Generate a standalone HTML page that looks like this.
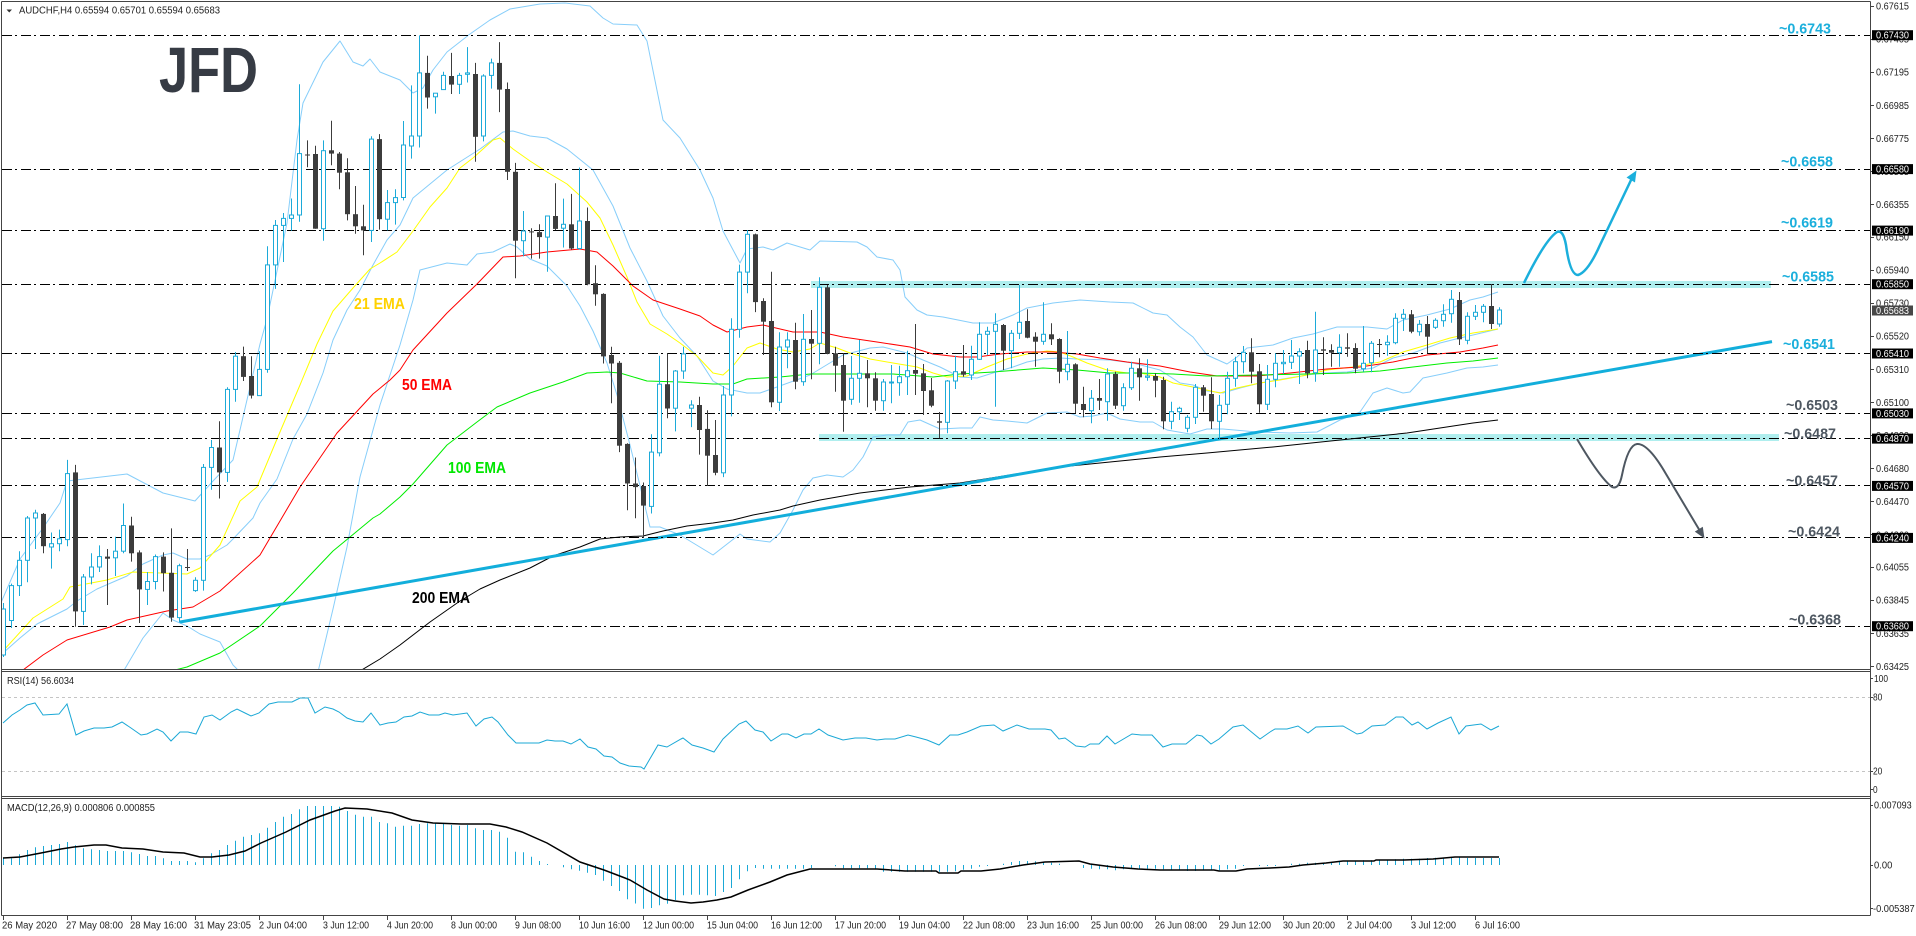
<!DOCTYPE html>
<html><head><meta charset="utf-8">
<style>
html,body{margin:0;padding:0;background:#fff;width:1916px;height:936px;overflow:hidden;}
svg{display:block;font-family:"Liberation Sans",Arial,sans-serif;}
</style></head><body>
<svg id="s" width="1916" height="936" viewBox="0 0 1916 936" xmlns="http://www.w3.org/2000/svg">
<defs>
<clipPath id="cm"><rect x="2" y="2" width="1868" height="667"/></clipPath>
<clipPath id="cr"><rect x="2" y="672" width="1868" height="124"/></clipPath>
<clipPath id="cd"><rect x="2" y="799" width="1868" height="116"/></clipPath>
</defs>
<rect width="1916" height="936" fill="#fff"/>

<g clip-path="url(#cm)">
  <rect x="811" y="281" width="960" height="7" fill="#AFEEEE"/>
  <rect x="819" y="434" width="960" height="7" fill="#AFEEEE"/>

  <g fill="none" stroke-width="1" stroke-linejoin="round">
    <polyline stroke="#87CEFA" points="0,605 20,559 43,528 60,503 67,481 127,474 163,493 195,501 213,481 233,460 260,344 267,319 287,223 297,140 303,103 323,62 340,41 353,62 363,66 370,59 380,72 400,80 413,93 423,88 433,70 447,52 470,34 490,20 510,9 540,4 565,3 590,6 603,18 613,24 637,25 647,41 663,120 680,138 700,170 713,198 723,231 740,263 747,249 763,247 773,250 787,243 810,250 820,241 857,242 867,247 877,257 893,260 900,270 905,297 917,310 927,315 943,317 973,323 993,323 1013,315 1027,308 1053,303 1080,300 1110,302 1133,303 1153,313 1167,315 1180,327 1193,337 1207,355 1227,364 1237,357 1247,348 1273,345 1293,338 1313,334 1337,327 1367,327 1387,329 1403,320 1427,315 1450,309 1470,300 1483,297 1498,292"/>
    <polyline stroke="#87CEFA" points="3,653 20,638 37,624 67,609 77,601 97,589 127,576 143,564 163,555 173,553 187,559 200,559 210,555 227,545 233,539 253,518 260,503 277,479 293,439 307,414 323,373 333,340 347,310 360,290 373,265 387,240 400,225 413,198 447,170 480,149 503,132 513,131 530,136 547,138 567,149 593,170 613,206 630,248 647,281 663,316 680,338 697,356 713,381 727,389 747,393 760,393 777,387 810,375 843,355 870,348 883,347 907,353 923,360 940,367 960,377 977,378 993,373 1013,367 1027,362 1043,359 1060,358 1077,359 1110,360 1133,363 1160,370 1180,383 1193,385 1207,391 1223,393 1240,388 1260,383 1283,379 1307,375 1323,373 1347,372 1373,368 1393,358 1413,353 1440,343 1460,338 1473,335 1498,329"/>
    <polyline stroke="#87CEFA" points="123,672 143,638 163,613 173,620 187,626 200,634 220,642 233,665 240,672"/>
    <polyline stroke="#87CEFA" points="318,672 333,609 347,547 360,477 373,430 380,405 400,345 413,300 420,270 447,263 467,265 477,254 493,252 510,244 517,247 530,259 547,266 567,286 580,306 593,331 607,363 617,395 630,445 643,498 650,527 660,527 680,535 713,555 740,534 747,539 770,542 780,533 793,510 803,490 813,478 827,475 843,477 853,470 863,457 873,437 887,435 900,435 908,422 920,420 940,429 960,428 972,428 980,417 993,420 1007,421 1027,423 1037,418 1047,413 1067,412 1080,417 1093,416 1107,413 1120,419 1140,422 1153,422 1167,430 1190,434 1207,429 1223,429 1257,432 1290,433 1317,432 1340,420 1360,412 1373,393 1387,388 1403,393 1410,392 1423,378 1447,373 1467,368 1483,367 1498,365"/>
    <polyline stroke="#FFFF00" points="3,651 33,618 63,599 70,587 107,580 133,572 187,574 200,568 220,545 240,501 257,487 277,439 300,385 317,344 333,311 353,288 370,269 380,263 397,252 413,231 430,207 447,188 460,168 473,158 493,140 500,138 513,149 530,161 547,172 567,184 587,202 600,218 613,245 627,277 637,302 650,324 667,334 680,343 697,356 713,373 723,375 733,366 747,348 760,343 777,349 793,352 810,349 820,343 837,348 850,353 870,359 893,363 917,367 933,373 947,377 967,376 987,367 1007,359 1027,354 1047,351 1060,352 1073,357 1087,363 1107,370 1127,373 1140,373 1160,377 1173,383 1193,387 1220,393 1237,388 1260,383 1280,380 1307,375 1327,370 1353,367 1380,362 1403,352 1427,345 1450,338 1473,333 1498,329"/>
    <polyline stroke="#FF0000" points="23,670 43,655 67,640 110,627 127,620 167,611 193,607 220,591 260,555 300,487 337,433 373,394 390,380 400,370 413,350 447,313 477,284 503,257 520,256 547,252 580,249 597,252 613,266 633,286 653,300 680,309 700,316 713,325 727,332 747,327 763,325 793,332 820,332 843,337 877,342 910,347 933,354 960,357 977,357 1000,354 1027,352 1053,352 1077,354 1100,358 1127,362 1160,366 1190,372 1217,376 1257,376 1290,373 1327,369 1360,367 1393,362 1427,355 1460,352 1483,348 1498,345"/>
    <polyline stroke="#00EE00" points="175,670 187,667 220,653 260,626 293,593 333,551 350,537 373,518 380,514 400,497 413,484 447,445 477,422 497,407 530,393 563,382 587,373 607,372 620,373 647,381 680,382 713,384 733,384 747,379 780,377 810,374 893,374 933,377 960,374 993,372 1043,368 1077,370 1110,373 1140,373 1173,374 1207,376 1257,375 1307,374 1347,373 1380,371 1413,367 1447,363 1473,361 1498,358"/>
    <polyline stroke="#000" points="360,671 380,659 400,645 430,622 460,601 480,589 500,580 530,568 553,556 580,547 600,539 620,537 643,536 663,531 687,526 713,523 733,520 753,515 780,510 793,506 820,500 860,493 910,487 960,483 1010,475 1060,467 1110,462 1160,457 1207,453 1273,447 1340,440 1407,433 1473,423 1498,420"/>
  </g>

  <line x1="180" y1="622" x2="1772" y2="341.6" stroke="#12AEDB" stroke-width="3"/>

  <g stroke="#000" stroke-width="1" stroke-dasharray="10,3,2,4">
    <line x1="2" y1="35.5" x2="1870" y2="35.5"/>
    <line x1="2" y1="169.5" x2="1870" y2="169.5"/>
    <line x1="2" y1="230.5" x2="1870" y2="230.5"/>
    <line x1="2" y1="284.5" x2="1870" y2="284.5"/>
    <line x1="2" y1="353.5" x2="1870" y2="353.5"/>
    <line x1="2" y1="413.5" x2="1870" y2="413.5"/>
    <line x1="2" y1="438.5" x2="1870" y2="438.5"/>
    <line x1="2" y1="485.5" x2="1870" y2="485.5"/>
    <line x1="2" y1="537.5" x2="1870" y2="537.5"/>
    <line x1="2" y1="626.5" x2="1870" y2="626.5"/>
  </g>

  <g id="cnd"></g>

  <text x="159" y="92" font-size="64" font-weight="bold" fill="#363B44" textLength="99" lengthAdjust="spacingAndGlyphs">JFD</text>

  <polygon points="6.5,9.5 12,9.5 9.25,12.5" fill="#333"/>
  <text x="19" y="13.5" font-size="10" fill="#222" textLength="201" lengthAdjust="spacingAndGlyphs">AUDCHF,H4  0.65594 0.65701 0.65594 0.65683</text>

  <g font-size="16" font-weight="bold">
    <text x="354" y="309" fill="#FFD200" textLength="51" lengthAdjust="spacingAndGlyphs">21 EMA</text>
    <text x="402" y="390" fill="#FF0000" textLength="50" lengthAdjust="spacingAndGlyphs">50 EMA</text>
    <text x="448" y="473" fill="#00E600" textLength="58" lengthAdjust="spacingAndGlyphs">100 EMA</text>
    <text x="412" y="603" fill="#000" textLength="58" lengthAdjust="spacingAndGlyphs">200 EMA</text>
  </g>

  <g font-size="15" font-weight="bold">
    <text x="1779" y="33.3" fill="#1BAFDC" textLength="52" lengthAdjust="spacingAndGlyphs">~0.6743</text>
    <text x="1781" y="166.7" fill="#1BAFDC" textLength="52" lengthAdjust="spacingAndGlyphs">~0.6658</text>
    <text x="1781" y="227.7" fill="#1BAFDC" textLength="52" lengthAdjust="spacingAndGlyphs">~0.6619</text>
    <text x="1782" y="281.7" fill="#1BAFDC" textLength="52" lengthAdjust="spacingAndGlyphs">~0.6585</text>
    <text x="1783" y="349" fill="#1BAFDC" textLength="52" lengthAdjust="spacingAndGlyphs">~0.6541</text>
    <text x="1786" y="410" fill="#4E5761" textLength="52" lengthAdjust="spacingAndGlyphs">~0.6503</text>
    <text x="1784" y="438.3" fill="#4E5761" textLength="52" lengthAdjust="spacingAndGlyphs">~0.6487</text>
    <text x="1786" y="485.7" fill="#4E5761" textLength="52" lengthAdjust="spacingAndGlyphs">~0.6457</text>
    <text x="1788" y="536.7" fill="#4E5761" textLength="52" lengthAdjust="spacingAndGlyphs">~0.6424</text>
    <text x="1789" y="624.3" fill="#4E5761" textLength="52" lengthAdjust="spacingAndGlyphs">~0.6368</text>
  </g>

  <path d="M1524,283 Q1545,240 1557,232 Q1563,229 1566,245 Q1570,275 1578,275 Q1588,272 1600,245 L1632,178" fill="none" stroke="#1BAFDC" stroke-width="2.5"/>
  <polygon points="1636.5,170.5 1635,182.5 1626.5,177.5" fill="#1BAFDC"/>
  <path d="M1577,439 Q1600,478 1612,487 Q1619,490 1622,475 Q1628,445 1637,444 Q1648,443 1666,474 L1700,531" fill="none" stroke="#4E5761" stroke-width="2"/>
  <polygon points="1704.5,538.5 1702.8,526.8 1694.8,531.6" fill="#4E5761"/>
</g>

<!-- RSI -->
<g clip-path="url(#cr)">
  <line x1="2" y1="697.5" x2="1870" y2="697.5" stroke="#C4C4C4" stroke-dasharray="3,3"/>
  <line x1="2" y1="771.5" x2="1870" y2="771.5" stroke="#C4C4C4" stroke-dasharray="3,3"/>
  <polyline fill="none" stroke="#1BA8D6" stroke-width="1" points="3,723 12,715 20,710 27,705 35,703 43,715 59,714 67,704 76,735 84,731 94,728 104,728 112,727 122,722 131,728 141,735 147,734 157,729 163,732 171,741 180,732 188,732 196,734 204,717 212,715 220,720 231,712 237,709 245,713 251,716 259,713 269,704 278,702 292,702 300,698 308,698 315,713 325,707 333,709 339,712 347,718 355,721 363,722 371,713 380,725 388,723 396,722 404,717 412,716 420,712 429,715 439,715 445,713 453,715 467,713 476,726 484,719 492,717 498,722 508,735 516,743 539,743 547,740 555,741 563,741 571,744 580,739 588,747 596,749 604,756 612,757 620,763 629,766 641,767 644,769 658,745 667,747 681,739 683,738 692,745 703,748 714,752 723,739 739,724 746,721 755,730 763,732 771,741 782,734 788,734 796,738 804,734 811,734 819,729 828,735 843,740 855,738 866,738 877,740 885,739 895,739 908,735 916,737 927,740 939,745 950,735 958,735 967,732 981,726 994,725 1003,731 1017,725 1029,729 1045,729 1051,730 1059,739 1065,738 1076,746 1085,747 1090,744 1099,744 1107,736 1115,744 1132,734 1141,735 1152,735 1163,747 1172,744 1186,744 1197,735 1202,736 1211,744 1219,739 1233,727 1243,725 1260,739 1270,732 1275,729 1287,729 1298,726 1308,733 1316,727 1343,726 1357,734 1362,733 1372,726 1385,725 1396,717 1403,717 1412,725 1418,722 1427,729 1438,723 1451,717 1459,734 1466,726 1481,724 1491,730 1499,726"/>
  <text x="7" y="684" font-size="10" fill="#222" textLength="67" lengthAdjust="spacingAndGlyphs">RSI(14) 56.6034</text>
</g>

<!-- MACD -->
<g clip-path="url(#cd)">
  <g id="hist"></g>
  <polyline fill="none" stroke="#000" stroke-width="1.5" points="3,858 20,857 41,853 61,849 74,847 94,845 106,845 122,848 143,849 163,852 184,853 200,857 212,857 229,855 245,851 261,843 286,832 310,820 335,811 345,808 367,809 392,813 412,820 433,823 461,824 490,824 506,827 522,832 547,843 580,862 604,870 625,878 630,880 647,890 664,899 675,901 691,903 703,902 717,900 731,897 748,890 770,882 787,875 810,869 824,869 877,869 905,871 936,871 939,873 958,873 961,871 981,871 1000,869 1023,865 1045,862 1079,861 1090,864 1113,867 1138,869 1160,870 1214,870 1219,871 1236,871 1247,869 1270,868 1289,867 1303,865 1326,863 1343,861 1374,861 1376,860 1404,860 1433,859 1455,857 1499,857"/>
  <text x="7" y="811" font-size="10" fill="#222" textLength="148" lengthAdjust="spacingAndGlyphs">MACD(12,26,9) 0.000806 0.000855</text>
</g>

<!-- Frames -->
<g fill="none" stroke="#444" stroke-width="1">
  <line x1="1.5" y1="1.5" x2="1870.5" y2="1.5"/>
  <line x1="1.5" y1="1.5" x2="1.5" y2="915.5"/>
  <line x1="1870.5" y1="1.5" x2="1870.5" y2="915.5"/>
  <line x1="1.5" y1="669.5" x2="1870.5" y2="669.5"/>
  <line x1="1.5" y1="671.5" x2="1870.5" y2="671.5"/>
  <line x1="1.5" y1="796.5" x2="1870.5" y2="796.5"/>
  <line x1="1.5" y1="798.5" x2="1870.5" y2="798.5"/>
  <line x1="1.5" y1="915.5" x2="1870.5" y2="915.5"/>
</g>

<!-- price axis ticks -->
<g stroke="#444" stroke-width="1">
  <line x1="1870" y1="6.5" x2="1874" y2="6.5"/><line x1="1870" y1="39.5" x2="1874" y2="39.5"/>
  <line x1="1870" y1="72.5" x2="1874" y2="72.5"/><line x1="1870" y1="105.5" x2="1874" y2="105.5"/>
  <line x1="1870" y1="138.5" x2="1874" y2="138.5"/><line x1="1870" y1="171.5" x2="1874" y2="171.5"/>
  <line x1="1870" y1="204.5" x2="1874" y2="204.5"/><line x1="1870" y1="237.5" x2="1874" y2="237.5"/>
  <line x1="1870" y1="270.5" x2="1874" y2="270.5"/><line x1="1870" y1="303.5" x2="1874" y2="303.5"/>
  <line x1="1870" y1="336.5" x2="1874" y2="336.5"/><line x1="1870" y1="369.5" x2="1874" y2="369.5"/>
  <line x1="1870" y1="402.5" x2="1874" y2="402.5"/><line x1="1870" y1="435.5" x2="1874" y2="435.5"/>
  <line x1="1870" y1="468.5" x2="1874" y2="468.5"/><line x1="1870" y1="501.5" x2="1874" y2="501.5"/>
  <line x1="1870" y1="534.5" x2="1874" y2="534.5"/><line x1="1870" y1="567.5" x2="1874" y2="567.5"/>
  <line x1="1870" y1="600.5" x2="1874" y2="600.5"/><line x1="1870" y1="633.5" x2="1874" y2="633.5"/>
  <line x1="1870" y1="666.5" x2="1874" y2="666.5"/>
  <line x1="1870" y1="678.5" x2="1873" y2="678.5"/><line x1="1870" y1="697.5" x2="1873" y2="697.5"/>
  <line x1="1870" y1="771.5" x2="1873" y2="771.5"/><line x1="1870" y1="789.5" x2="1873" y2="789.5"/>
  <line x1="1870" y1="805.5" x2="1873" y2="805.5"/><line x1="1870" y1="865.5" x2="1873" y2="865.5"/>
  <line x1="1870" y1="908.5" x2="1873" y2="908.5"/>
</g>

<g font-size="10" fill="#222">
  <text x="1876" y="9.5" textLength="33" lengthAdjust="spacingAndGlyphs">0.67615</text>
  <text x="1876" y="42.6" textLength="33" lengthAdjust="spacingAndGlyphs">0.67405</text>
  <text x="1876" y="75.7" textLength="33" lengthAdjust="spacingAndGlyphs">0.67195</text>
  <text x="1876" y="108.8" textLength="33" lengthAdjust="spacingAndGlyphs">0.66985</text>
  <text x="1876" y="141.9" textLength="33" lengthAdjust="spacingAndGlyphs">0.66775</text>
  <text x="1876" y="175" textLength="33" lengthAdjust="spacingAndGlyphs">0.66565</text>
  <text x="1876" y="208.1" textLength="33" lengthAdjust="spacingAndGlyphs">0.66355</text>
  <text x="1876" y="240.4" textLength="33" lengthAdjust="spacingAndGlyphs">0.66150</text>
  <text x="1876" y="273.5" textLength="33" lengthAdjust="spacingAndGlyphs">0.65940</text>
  <text x="1876" y="306.6" textLength="33" lengthAdjust="spacingAndGlyphs">0.65730</text>
  <text x="1876" y="339.7" textLength="33" lengthAdjust="spacingAndGlyphs">0.65520</text>
  <text x="1876" y="372.8" textLength="33" lengthAdjust="spacingAndGlyphs">0.65310</text>
  <text x="1876" y="405.9" textLength="33" lengthAdjust="spacingAndGlyphs">0.65100</text>
  <text x="1876" y="439" textLength="33" lengthAdjust="spacingAndGlyphs">0.64890</text>
  <text x="1876" y="472.1" textLength="33" lengthAdjust="spacingAndGlyphs">0.64680</text>
  <text x="1876" y="505.2" textLength="33" lengthAdjust="spacingAndGlyphs">0.64470</text>
  <text x="1876" y="538.3" textLength="33" lengthAdjust="spacingAndGlyphs">0.64260</text>
  <text x="1876" y="570.6" textLength="33" lengthAdjust="spacingAndGlyphs">0.64055</text>
  <text x="1876" y="603.7" textLength="33" lengthAdjust="spacingAndGlyphs">0.63845</text>
  <text x="1876" y="636.8" textLength="33" lengthAdjust="spacingAndGlyphs">0.63635</text>
  <text x="1876" y="669.9" textLength="33" lengthAdjust="spacingAndGlyphs">0.63425</text>

  <text x="1874" y="681.8" textLength="14" lengthAdjust="spacingAndGlyphs">100</text>
  <text x="1873" y="700.5" textLength="9.3" lengthAdjust="spacingAndGlyphs">80</text>
  <text x="1873" y="774.5" textLength="9.3" lengthAdjust="spacingAndGlyphs">20</text>
  <text x="1873" y="792.8" textLength="4.6" lengthAdjust="spacingAndGlyphs">0</text>

  <text x="1874" y="808.5" textLength="37.7" lengthAdjust="spacingAndGlyphs">0.007093</text>
  <text x="1874" y="868.5" textLength="18.3" lengthAdjust="spacingAndGlyphs">0.00</text>
  <text x="1873" y="911.8" textLength="41.7" lengthAdjust="spacingAndGlyphs">-0.005387</text>
</g>

<!-- highlighted price boxes -->
<g>
  <rect x="1872" y="30.2" width="41" height="10" fill="#000"/>
  <rect x="1872" y="164.1" width="41" height="10" fill="#000"/>
  <rect x="1872" y="225.6" width="41" height="10" fill="#000"/>
  <rect x="1872" y="279.2" width="41" height="10" fill="#000"/>
  <rect x="1872" y="305.5" width="41" height="10" fill="#474747"/>
  <rect x="1872" y="348.5" width="41" height="10" fill="#000"/>
  <rect x="1872" y="408.4" width="41" height="10" fill="#000"/>
  <rect x="1872" y="433.6" width="41" height="10" fill="#000"/>
  <rect x="1872" y="480.9" width="41" height="10" fill="#000"/>
  <rect x="1872" y="532.9" width="41" height="10" fill="#000"/>
  <rect x="1872" y="621.2" width="41" height="10" fill="#000"/>
</g>
<g font-size="10" fill="#fff">
  <text x="1876" y="38.7" textLength="33" lengthAdjust="spacingAndGlyphs">0.67430</text>
  <text x="1876" y="172.6" textLength="33" lengthAdjust="spacingAndGlyphs">0.66580</text>
  <text x="1876" y="234.1" textLength="33" lengthAdjust="spacingAndGlyphs">0.66190</text>
  <text x="1876" y="287.7" textLength="33" lengthAdjust="spacingAndGlyphs">0.65850</text>
  <text x="1876" y="314" textLength="33" lengthAdjust="spacingAndGlyphs">0.65683</text>
  <text x="1876" y="357" textLength="33" lengthAdjust="spacingAndGlyphs">0.65410</text>
  <text x="1876" y="416.9" textLength="33" lengthAdjust="spacingAndGlyphs">0.65030</text>
  <text x="1876" y="442.1" textLength="33" lengthAdjust="spacingAndGlyphs">0.64870</text>
  <text x="1876" y="489.4" textLength="33" lengthAdjust="spacingAndGlyphs">0.64570</text>
  <text x="1876" y="541.4" textLength="33" lengthAdjust="spacingAndGlyphs">0.64240</text>
  <text x="1876" y="629.7" textLength="33" lengthAdjust="spacingAndGlyphs">0.63680</text>
</g>

<!-- time axis -->
<g stroke="#444" stroke-width="1">
  <line x1="3.5" y1="915" x2="3.5" y2="920"/><line x1="67.5" y1="915" x2="67.5" y2="920"/>
  <line x1="131.5" y1="915" x2="131.5" y2="920"/><line x1="195.5" y1="915" x2="195.5" y2="920"/>
  <line x1="259.5" y1="915" x2="259.5" y2="920"/><line x1="323.5" y1="915" x2="323.5" y2="920"/>
  <line x1="387.5" y1="915" x2="387.5" y2="920"/><line x1="451.5" y1="915" x2="451.5" y2="920"/>
  <line x1="515.5" y1="915" x2="515.5" y2="920"/><line x1="579.5" y1="915" x2="579.5" y2="920"/>
  <line x1="643.5" y1="915" x2="643.5" y2="920"/><line x1="707.5" y1="915" x2="707.5" y2="920"/>
  <line x1="771.5" y1="915" x2="771.5" y2="920"/><line x1="835.5" y1="915" x2="835.5" y2="920"/>
  <line x1="899.5" y1="915" x2="899.5" y2="920"/><line x1="963.5" y1="915" x2="963.5" y2="920"/>
  <line x1="1027.5" y1="915" x2="1027.5" y2="920"/><line x1="1091.5" y1="915" x2="1091.5" y2="920"/>
  <line x1="1155.5" y1="915" x2="1155.5" y2="920"/><line x1="1219.5" y1="915" x2="1219.5" y2="920"/>
  <line x1="1283.5" y1="915" x2="1283.5" y2="920"/><line x1="1347.5" y1="915" x2="1347.5" y2="920"/>
  <line x1="1411.5" y1="915" x2="1411.5" y2="920"/><line x1="1475.5" y1="915" x2="1475.5" y2="920"/>
</g>
<g font-size="10" fill="#222">
  <text x="2" y="928.5" textLength="55" lengthAdjust="spacingAndGlyphs">26 May 2020</text>
  <text x="66" y="928.5" textLength="57" lengthAdjust="spacingAndGlyphs">27 May 08:00</text>
  <text x="130" y="928.5" textLength="57" lengthAdjust="spacingAndGlyphs">28 May 16:00</text>
  <text x="194" y="928.5" textLength="57" lengthAdjust="spacingAndGlyphs">31 May 23:05</text>
  <text x="259" y="928.5" textLength="48" lengthAdjust="spacingAndGlyphs">2 Jun 04:00</text>
  <text x="323" y="928.5" textLength="46" lengthAdjust="spacingAndGlyphs">3 Jun 12:00</text>
  <text x="387" y="928.5" textLength="46" lengthAdjust="spacingAndGlyphs">4 Jun 20:00</text>
  <text x="451" y="928.5" textLength="46" lengthAdjust="spacingAndGlyphs">8 Jun 00:00</text>
  <text x="515" y="928.5" textLength="46" lengthAdjust="spacingAndGlyphs">9 Jun 08:00</text>
  <text x="579" y="928.5" textLength="51" lengthAdjust="spacingAndGlyphs">10 Jun 16:00</text>
  <text x="643" y="928.5" textLength="51" lengthAdjust="spacingAndGlyphs">12 Jun 00:00</text>
  <text x="707" y="928.5" textLength="51" lengthAdjust="spacingAndGlyphs">15 Jun 04:00</text>
  <text x="771" y="928.5" textLength="51" lengthAdjust="spacingAndGlyphs">16 Jun 12:00</text>
  <text x="835" y="928.5" textLength="51" lengthAdjust="spacingAndGlyphs">17 Jun 20:00</text>
  <text x="899" y="928.5" textLength="51" lengthAdjust="spacingAndGlyphs">19 Jun 04:00</text>
  <text x="963" y="928.5" textLength="52" lengthAdjust="spacingAndGlyphs">22 Jun 08:00</text>
  <text x="1027" y="928.5" textLength="52" lengthAdjust="spacingAndGlyphs">23 Jun 16:00</text>
  <text x="1091" y="928.5" textLength="52" lengthAdjust="spacingAndGlyphs">25 Jun 00:00</text>
  <text x="1155" y="928.5" textLength="52" lengthAdjust="spacingAndGlyphs">26 Jun 08:00</text>
  <text x="1219" y="928.5" textLength="52" lengthAdjust="spacingAndGlyphs">29 Jun 12:00</text>
  <text x="1283" y="928.5" textLength="52" lengthAdjust="spacingAndGlyphs">30 Jun 20:00</text>
  <text x="1347" y="928.5" textLength="45" lengthAdjust="spacingAndGlyphs">2 Jul 04:00</text>
  <text x="1411" y="928.5" textLength="45" lengthAdjust="spacingAndGlyphs">3 Jul 12:00</text>
  <text x="1475" y="928.5" textLength="45" lengthAdjust="spacingAndGlyphs">6 Jul 16:00</text>
</g>
</svg>

<script>
(function(){
var NS='http://www.w3.org/2000/svg';
function el(p,t,a){var e=document.createElementNS(NS,t);for(var k in a)e.setAttribute(k,a[k]);p.appendChild(e);return e;}
var C=[[1,609,655,603,657],[1,585.6,620.5,583.6,628],[1,560.3,585.6,551.2,596],[1,518,560.3,516,582.3],[1,513,518,509.7,549],[0,513.9,546.2,513,553.3],[1,543.7,547,532.5,568.6],[1,538.8,543.7,529.6,551.2],[1,473.6,539.6,459.9,546.2],[0,472.4,611.4,464.9,626.7],
[1,577,611.4,574,625],[1,567,577,553.3,584.4],[1,556.6,567,545.4,572],[0,556.6,558.7,549,605],[1,551.2,557.8,536.7,576],[1,525.5,551.2,503.5,553.3],[0,525.5,553.3,516.8,561.6],[0,552.4,589.4,550.4,623],[1,581.5,589.4,572,605],[1,556.6,581.5,554.5,589.4],
[0,556.6,573.2,552.4,591.5],[0,572.8,617.6,528.4,621.8],[1,565.7,617.6,563.7,622.6],[0,567,568,549,571],[1,580.3,590.6,577.3,591.9],[1,467.4,580.3,464,590.6],[1,447.5,467.4,440,489.8],[0,447.5,472.4,421.3,498.5],[1,389.4,472.4,387.3,481.9],[1,356.2,389.4,352,401.8],
[0,356.2,376.9,346.6,381],[0,376,395.6,356.2,398.5],[1,369.4,395.6,351.2,396],[1,264.9,369.4,246.2,372.8],[1,225.4,264.9,220,288.9],[1,218.4,225.4,213,262],[1,215,218.4,198.5,230.8],[1,153.6,215,84.3,221.7],[0,154.5,155.5,140.4,167.3],[0,154,228.7,145.7,228.7],
[1,150.7,228.7,140.4,240.8],[0,150.3,153.6,120.8,165.3],[0,153.6,172.7,152,189.3],[0,172.3,214.2,158.2,220.4],[0,214.2,226.3,186,233.7],[0,226.3,230.4,204.7,255.3],[1,139.1,230.4,136.2,242],[0,139.1,219.2,134.1,229.6],[1,202.6,219.2,190,230.4],[1,197.6,202.6,189.3,224.6],
[1,145,197.5,121,200.4],[1,136,146,85.4,158.6],[1,72.9,136,35.4,147.5],[0,72.9,97.5,55.7,108.6],[1,93.2,96.8,93.2,113.6],[1,75.4,89.6,71.8,89.6],[0,76,84.6,52.9,94],[1,75.4,84.3,72.9,94],[1,72.9,74.3,47.1,82.5],[0,74,136.8,62.9,161.8],
[1,76,136,74.3,141.4],[1,62.9,75.4,58.6,88.6],[0,62.9,89.6,42.1,112.1],[0,89,171.8,82.5,180],[0,171.8,240.7,162.9,278.2],[1,231,240.7,211,256.4],[0,231.4,232.4,228.2,258.6],[0,232.1,237.1,224.3,258.6],[1,216,237.1,216,271.8],[0,216,228.9,183.2,230],
[1,224.3,228.2,198.6,247.5],[0,224.3,248.5,193.9,249.6],[1,221,248.5,167.5,249.6],[0,221,284.3,207.5,285.3],[0,283.2,294.3,265.3,305.7],[0,293.9,356.4,293.2,363.5],[0,355,363.5,346.8,403.2],[0,362.8,445.7,361,452.1],[0,443.9,483.5,443.2,510.3],[0,483.5,487.1,457.5,518.2],
[0,486,505.6,482.5,537.8],[1,452.1,506.4,434.2,513.5],[1,384.2,452.8,355.7,456.4],[0,384.2,408.5,353.2,418.2],[1,371,408.2,370,431.4],[1,353.9,371,346.8,378.9],[1,405,408.2,400.3,427.1],[0,405,430,396.8,454.6],[0,428.9,455.7,410.3,486],[0,455,472.8,420,475.3],
[1,395,472.8,386,477.1],[1,329.3,395,318.2,416.4],[1,272.1,329.3,264.6,337.8],[1,234.3,272.1,230,293.2],[0,234.3,302.1,233.6,312.1],[0,301,321.7,298.3,355],[0,321,402.3,271.7,407.3],[1,347,402.3,332.3,411],[1,340,347,332.3,368.3],[0,340,381.7,322.7,389.3],
[1,339.3,381.7,314,385.7],[0,339,343.7,310,379.3],[1,287.3,343.3,277.3,364.3],[0,287.3,353.7,285,354.3],[0,353.3,365.7,346.7,391.7],[0,365,400.7,353.3,431.7],[1,378.3,399.3,356,404.7],[1,373.3,378.3,340,402.7],[0,373.3,378.3,360,407.3],[0,378.3,400.7,372.3,410.7],
[1,382,400.7,379,410.7],[1,382,383,365,403.3],[1,376.7,382.7,365.7,395.7],[1,370.7,376.7,350.7,395],[0,370,373.7,324,395],[0,373.3,391,364,415],[0,390.3,405.7,378,407.3],[0,421.3,422.7,412,438.3],[1,381,422.3,380,433.3],[1,371.7,381,355.7,389],
[0,371.3,374.7,345,376.7],[1,359.3,375,345.7,380],[1,334.3,359.3,322.3,360],[1,331.3,334.3,326.7,355],[1,324.3,331.3,313.3,406.7],[0,325,350.7,324,370],[1,333.3,350.7,330,368.3],[1,322.3,333.3,285,339],[0,321,337.7,309.3,338.3],[0,336.7,341.7,332.3,366.7],
[1,334.3,341.3,302.3,344.7],[0,334.3,339.3,323.3,345],[0,339,371.7,338.3,383.3],[1,364.3,371.7,331,380.3],[0,364.3,403.7,363.3,413.3],[0,404,410,386.7,417.3],[1,398.3,410.7,390,423.3],[0,398,400.7,379,410],[1,374,401.7,368.3,420.7],[0,374,405.7,371.7,409],
[1,387.7,405.7,383.3,410.7],[1,368.3,387.7,361.7,390],[0,368.3,377.3,358.3,400.7],[1,376,377.3,359.3,380.7],[0,376,380.7,373.3,397.3],[0,380,421.3,376.7,429.3],[1,411.7,421.3,401.7,429.3],[1,408.3,411.7,406.7,420],[1,417.3,428.3,415,432.3],[1,387.3,417.3,384,424],
[0,387.3,395.7,385,411.7],[0,394,421.3,377.3,429],[1,405.3,421.3,395,439.3],[1,378.3,404.3,371.7,414.3],[1,361.7,378.3,356.7,386.7],[1,352.3,361.7,346,373.3],[0,352.3,371.7,338.3,383.3],[0,371.3,404.3,364,412.7],[1,379.3,404.3,365,410],[1,363.3,379.3,353.3,387.3],
[1,362.3,363.7,350,374],[1,356,362.3,340,369],[1,351.7,356,348.3,384],[0,350,373.3,340.7,378.3],[1,350,372.7,311.7,381.7],[0,349.3,350.7,337.3,375],[0,350,352.7,344.3,366.7],[1,347.3,352.7,334.3,366.7],[0,347.3,348.7,333.3,356.7],[0,348,368.7,343.3,373.3],
[1,363.3,368.7,326,371.7],[1,343.3,362.7,341,372.3],[0,344,345,339,357.3],[1,342.3,344.7,335.3,355.7],[1,318.3,342.7,313.3,344.3],[1,314.3,318.3,309,331],[0,314.3,331.7,310,333.3],[1,324.3,331.7,320,335.7],[0,324,336.7,316,353.3],[1,320.3,327.3,318.3,329],
[1,314.3,320.7,304.3,326.7],[1,299.3,313.7,290,322.7],[0,300,339.3,292,345],[1,316.3,340.3,312.3,344.3],[1,312.3,316.3,305,320],[1,306.3,312.3,304,322.3],[0,306,324,284,329],[1,310,324,307.3,326.7]];
var H=[858.3,858.3,854.3,850,847.3,846,845,844,842,845.3,848.3,849.3,850,851,851,851,852.3,854,856,856,858.3,861,861,861,862.3,858.3,853.3,850,845,840.7,836.7,835,833.3,827.7,822,816.7,814,809.3,806,806,806,806,806.7,811,814.7,816.7,816.7,822,823.3,826.7,825.7,825.7,824,823.3,823.3,823.3,825,825.7,825,828.3,830,830,831.7,837.7,851.7,852.3,856.7,861,864,865,867.3,869.3,870.7,872.7,875,880.7,886,891,899.3,903.5,
908.7,908,905.3,903.7,900.3,895.3,894.7,894.7,895.3,896,892,888,879.3,871.3,868,868.7,868.7,868.7,868.7,868.7,868.7,868,865.3,865,866.3,868.3,868.3,868.3,868.3,869.3,871.7,871.7,871.7,871.7,871.7,871.7,871.7,871.7,871.7,871.3,869.7,868.7,866.7,866,864.7,863.7,862,861,861,861.3,862,862.7,863.7,864.7,865.3,868,868.7,869.3,869.3,870.3,869.3,868.7,868.7,868.7,868.7,869.3,870.3,870.3,871,871,870.3,870.3,870.3,869.3,868.7,866,864.7,866,866,866,865.3,863.7,863.7,862.7,862.7,862.7,862,861.3,861.3,861,860.3,860.3,860.3,860.3,859.3,858.7,858.7,858.7,858,857.7,857.7,857.3,857,858,858,858,858,858];
var cg=document.getElementById('cnd');
var CY='#1CAAD9', DK='#3C3C3C';
for(var i=0;i<C.length;i++){
  var c=C[i],cx=3.5+8*i,bull=c[0]===1,col=bull?CY:DK;
  el(cg,'line',{x1:cx,y1:c[3],x2:cx,y2:c[4],stroke:col,'stroke-width':1});
  var h=Math.max(c[2]-c[1],1);
  if(bull){el(cg,'rect',{x:cx-2,y:c[1],width:4,height:h,fill:'#fff',stroke:CY,'stroke-width':1});}
  else{el(cg,'rect',{x:cx-2.5,y:c[1],width:5,height:h,fill:DK});}
}
var hg=document.getElementById('hist');
for(var j=0;j<H.length;j++){
  var x=3.5+8*j; if(Math.abs(H[j]-865)<0.4) continue;
  el(hg,'line',{x1:x,y1:865,x2:x,y2:H[j],stroke:'#1BA8D6','stroke-width':1});
}
})();
</script>
</body></html>
